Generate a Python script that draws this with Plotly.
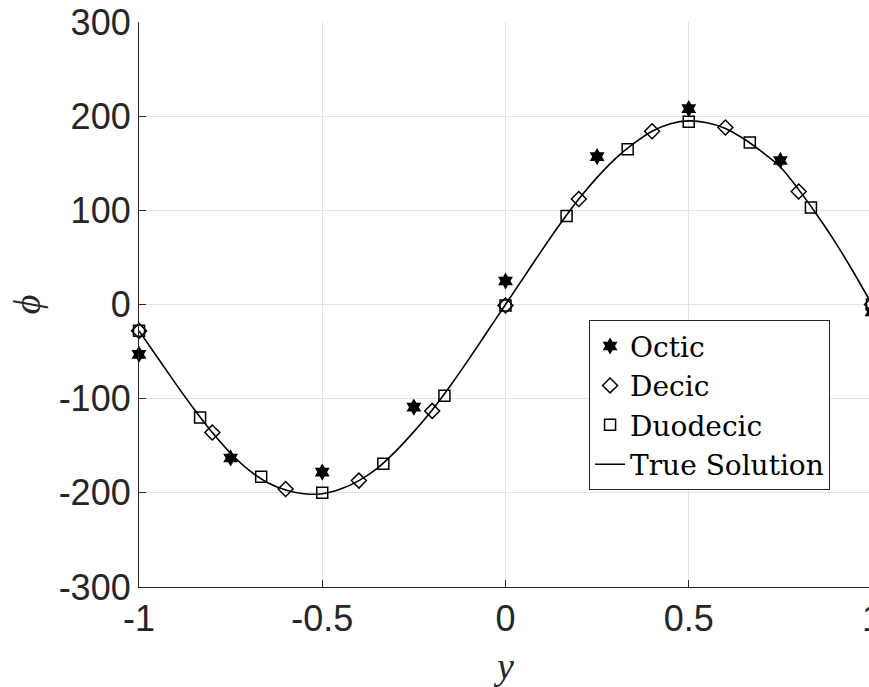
import plotly.graph_objects as go

# ---- data ----
octic_x = [-1.0, -0.75, -0.5, -0.25, 0.0, 0.25, 0.5, 0.75, 1.0]
octic_y = [-53, -163, -178, -109, 25, 157, 208, 153, -8]

decic_x = [-1.0, -0.8, -0.6, -0.4, -0.2, 0.0, 0.2, 0.4, 0.6, 0.8, 1.0]
decic_y = [-28, -136, -196, -187, -113, -1, 112, 184, 188, 120, 0]

duo_x = [-1.0, -5/6, -4/6, -0.5, -2/6, -1/6, 0.0, 1/6, 2/6, 0.5, 4/6, 5/6, 1.0]
duo_y = [-28, -120, -183, -200, -169, -97, -1, 94, 165, 194, 172, 103, 0]

true_x = [-1.00, -0.95, -0.90, -0.85, -0.80, -0.75, -0.70, -0.65, -0.60, -0.55,
          -0.50, -0.45, -0.40, -0.35, -0.30, -0.25, -0.20, -0.15, -0.10, -0.05,
          0.00, 0.05, 0.10, 0.15, 0.20, 0.25, 0.30, 0.35, 0.40, 0.45,
          0.50, 0.55, 0.60, 0.65, 0.70, 0.75, 0.80, 0.85, 0.90, 0.95, 1.00]
true_y = [-28, -56, -84, -111, -136, -158, -176, -189, -197, -201,
          -201, -196, -187, -174, -156, -135, -112, -86, -58, -29,
          0, 29, 58, 86, 112, 135, 155, 171, 184, 192,
          195, 193, 187, 176, 162, 146, 122, 95, 66, 34, 0]

x_tickvals = [-1, -0.5, 0, 0.5, 1]
x_ticktext = ["-1", "-0.5", "0", "0.5", "1"]
y_tickvals = [-300, -200, -100, 0, 100, 200, 300]
y_ticktext = ["-300", "-200", "-100", "0", "100", "200", "300"]

AX = "#262626"
GRID = "#e3e3e3"

fig = go.Figure()
fig.add_trace(go.Scatter(x=octic_x, y=octic_y, mode="markers", name="Octic",
                         marker=dict(symbol="hexagram", size=13, color="black",
                                     line=dict(width=0)), cliponaxis=False))
fig.add_trace(go.Scatter(x=decic_x, y=decic_y, mode="markers", name="Decic",
                         marker=dict(symbol="diamond-open", size=11.5, color="black",
                                     line=dict(width=1.5, color="black")), cliponaxis=False))
fig.add_trace(go.Scatter(x=duo_x, y=duo_y, mode="markers", name="Duodecic",
                         marker=dict(symbol="square-open", size=11, color="black",
                                     line=dict(width=1.5, color="black")), cliponaxis=False))
fig.add_trace(go.Scatter(x=true_x, y=true_y, mode="lines", name="True Solution",
                         line=dict(color="black", width=1.6, shape="spline", smoothing=0.8)))

fig.update_layout(
    width=876, height=687,
    margin=dict(l=139, r=4, t=22, b=100, autoexpand=False),
    paper_bgcolor="white", plot_bgcolor="white",
    showlegend=True,
    legend=dict(x=0.614, y=0.472, xanchor="left", yanchor="top",
                bgcolor="white", bordercolor=AX, borderwidth=1,
                font=dict(family="DejaVu Serif", size=28, color="black"),
                itemwidth=30, tracegroupgap=0),
    font=dict(family="Liberation Sans", color=AX),
)
fig.update_xaxes(range=[-1, 1], tickvals=x_tickvals, ticktext=x_ticktext,
                 automargin=False,
                 showgrid=True, gridcolor=GRID, gridwidth=1,
                 showline=True, linecolor=AX, linewidth=1.2,
                 ticks="inside", ticklen=7, tickcolor=AX, tickwidth=1,
                 ticklabeloverflow="allow",
                 tickfont=dict(family="Liberation Sans", size=36, color=AX),
                 zeroline=False,
                 title=dict(text="<i>y</i>", font=dict(family="Liberation Serif", size=38, color=AX),
                            standoff=14))
fig.update_yaxes(range=[-300, 300], tickvals=y_tickvals, ticktext=y_ticktext,
                 automargin=False,
                 showgrid=True, gridcolor=GRID, gridwidth=1,
                 showline=True, linecolor=AX, linewidth=1.2,
                 ticks="inside", ticklen=7, tickcolor=AX, tickwidth=1,
                 tickfont=dict(family="Liberation Sans", size=36, color=AX),
                 zeroline=False,
                 title=dict(text="<i>ϕ</i>", font=dict(family="Liberation Serif", size=38, color=AX),
                            standoff=6))

fig.write_html("out.html", post_script="document.body.style.overflow='hidden';document.documentElement.style.overflow='hidden';")
